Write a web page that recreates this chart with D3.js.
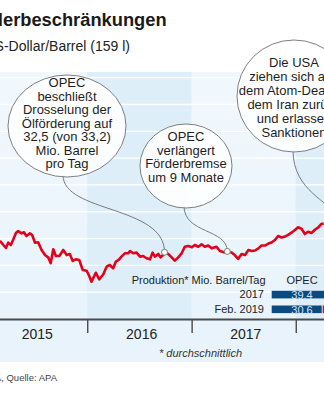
<!DOCTYPE html>
<html><head><meta charset="utf-8">
<script src="https://cdn.jsdelivr.net/npm/d3@7"></script>
<style>
html,body{margin:0;padding:0;background:#fff;}
svg{display:block;font-family:"Liberation Sans",Arial,Helvetica,sans-serif;}
</style></head><body>
<svg id="c" width="324" height="400"></svg>
<script>
// ---------- data ----------
const dates = ["2015-03-01","2015-03-13","2015-03-22","2015-03-30","2015-04-08","2015-04-16","2015-04-26","2015-05-04","2015-05-16","2015-05-24",
"2015-06-02","2015-06-14","2015-06-22","2015-07-02","2015-07-13","2015-07-25","2015-08-06","2015-08-17","2015-08-26","2015-09-04",
"2015-09-13","2015-09-25","2015-10-09","2015-10-21","2015-11-01","2015-11-11","2015-11-22","2015-12-04","2015-12-16","2015-12-30",
"2016-01-08","2016-01-16","2016-01-31","2016-02-12","2016-02-26","2016-03-09","2016-03-20","2016-04-01","2016-04-10","2016-04-22",
"2016-04-30","2016-05-12","2016-05-24","2016-05-30","2016-06-10","2016-06-22","2016-07-04","2016-07-15","2016-07-27","2016-08-08",
"2016-08-17","2016-08-25","2016-09-06","2016-09-14","2016-09-23","2016-10-02","2016-10-11","2016-10-23","2016-11-03","2016-11-15",
"2016-11-27","2016-12-08","2016-12-20","2017-01-02","2017-01-12","2017-01-24","2017-02-05","2017-02-16","2017-02-28","2017-03-12",
"2017-03-29","2017-04-10","2017-04-27","2017-05-06","2017-05-21","2017-06-01","2017-06-13","2017-06-25","2017-07-07","2017-07-19",
"2017-07-31","2017-08-11","2017-08-23","2017-09-03","2017-09-15","2017-09-27","2017-10-08","2017-10-20","2017-10-31","2017-11-12",
"2017-11-24","2017-12-05","2017-12-17","2017-12-29","2018-01-09","2018-01-21","2018-02-02","2018-02-13","2018-02-25","2018-03-09",
"2018-03-21","2018-04-01","2018-04-09"];
const prices = [58.4,55.2,53.0,56.9,55.2,58.9,64.2,65.6,63.9,64.7,
61.9,63.9,62.7,56.9,57.2,51.5,47.7,46.0,41.6,52.0,
47.0,47.0,51.5,47.7,48.5,43.3,44.5,44.0,36.6,36.0,
32.1,27.8,34.5,29.6,33.2,39.0,40.3,37.8,42.7,44.5,
46.5,49.0,49.0,50.7,49.0,49.5,46.5,47.0,45.3,44.5,
49.5,46.5,48.5,46.0,47.7,49.8,48.5,46.0,43.5,46.0,
49.0,53.9,54.5,53.5,55.2,53.9,55.7,53.9,54.8,52.7,
53.9,50.7,49.6,50.4,49.6,47.7,44.8,48.5,47.7,51.5,
50.7,51.1,52.7,54.8,54.8,56.3,57.1,58.9,61.9,60.8,
61.5,62.7,64.4,66.4,68.4,67.3,63.4,65.1,64.2,66.6,
68.3,70.9,71.2];
const years = [2015, 2016, 2017, 2018];
const gridValues = [20, 40, 60, 80, 100, 120, 140, 160, 180];

const noteTexts = [
  ["OPEC","beschließt","Drosselung der","Ölförderung auf","32,5 (von 33,2)","Mio. Barrel","pro Tag"],
  ["OPEC","verlängert","Förderbremse","um 9 Monate"],
  ["Die USA","ziehen sich aus","dem Atom-Deal mit","dem Iran zurück","und erlassen","Sanktionen"]
];
const noteDates = ["2016-09-28","2017-05-06","2018-05-08"];
const noteValues = [49.8, 50.4, 77];

const tableTitle = "Produktion* Mio. Barrel/Tag";
const tableColumn = "OPEC";
const tableRows = ["2017","Feb. 2019"];
const opecValues = [39.4, 30.6];

const titlePrefix = "Ölpreis und Förd";
const titleRest = "erbeschränkungen";
const subtitleText = "Rohöl der Sorte Brent in US-Dollar/Barrel (159 l)";
const footnoteText = "* durchschnittlich";
const sourceText = "Grafik: APA, Quelle: APA";

// ---------- layout ----------
const svg = d3.select("#c");
const parse = d3.utcParse("%Y-%m-%d");
const data = dates.map((d, i) => ({date: parse(d), value: prices[i]}));

const plotTop = 72, axisY = 319, panelBottom = 362;
const dayPx = 0.28528;
const x = d3.scaleUtc()
  .domain([Date.UTC(2015,0,1), Date.UTC(2019,0,1)])
  .range([-16.9, -16.9 + 1461 * dayPx]);
const y = d3.scaleLinear().domain([0, 185]).range([axisY, 71]);

const defs = svg.append("defs");
const gOdd = defs.append("linearGradient").attr("id","gOdd").attr("x1",0).attr("x2",0).attr("y1",0).attr("y2",1);
gOdd.append("stop").attr("offset","0%").attr("stop-color","#f1f8fd");
gOdd.append("stop").attr("offset","100%").attr("stop-color","#e8f3fb");

// panel background
svg.append("rect").attr("x",0).attr("y",plotTop).attr("width",324).attr("height",panelBottom-plotTop).attr("fill","#e8f3fb");
svg.selectAll("rect.band").data(years).join("rect").attr("class","band")
  .attr("x", d => x(Date.UTC(d,0,1)))
  .attr("width", d => x(Date.UTC(d+1,0,1)) - x(Date.UTC(d,0,1)))
  .attr("y", plotTop).attr("height", axisY - plotTop)
  .attr("fill", d => d % 2 ? "url(#gOdd)" : "#ddeef9");

// gridlines
svg.selectAll("line.grid").data(gridValues).join("line").attr("class","grid")
  .attr("x1",0).attr("x2",324).attr("y1",d=>y(d)).attr("y2",d=>y(d))
  .attr("stroke","#ffffff").attr("stroke-width",1.3);

// price line
svg.append("path").datum(data)
  .attr("d", d3.line().x(d=>x(d.date)).y(d=>y(d.value)))
  .attr("fill","none").attr("stroke","#e3001b").attr("stroke-width",2.6)
  .attr("stroke-linejoin","round");

// annotations
const bubbles = [
  {cx:67, cy:126, rx:59, ry:51, sx:-4, base:87, lh:13.5, k1:38, k2:47},
  {cx:186, cy:166, rx:46, ry:42, sx:-2, base:141, lh:13.6, k1:28, k2:23},
  {cx:294, cy:96, rx:57, ry:56, sx:-1, base:67, lh:14, k1:43, k2:16}
];
const notes = noteTexts.map((t,i)=>Object.assign({lines:t, date:parse(noteDates[i]), value:noteValues[i]}, bubbles[i]));

const ng = svg.append("g");
ng.selectAll("path.ptr").data(notes).join("path").attr("class","ptr")
  .attr("d", d => {
    const x0 = d.cx + d.sx, y0 = d.cy + d.ry - 2;
    const tx = x(d.date), ty = y(d.value);
    return `M${x0},${y0}C${x0},${y0+d.k1} ${tx},${ty-d.k2} ${tx},${ty}`;
  })
  .attr("fill","none").attr("stroke","#7a7a7a").attr("stroke-width",1);
ng.selectAll("circle.dot").data(notes).join("circle").attr("class","dot")
  .attr("cx", d=>x(d.date)).attr("cy", d=>y(d.value)).attr("r",3)
  .attr("fill","#fff").attr("stroke","#7a7a7a").attr("stroke-width",1);
ng.selectAll("ellipse").data(notes).join("ellipse")
  .attr("cx",d=>d.cx).attr("cy",d=>d.cy).attr("rx",d=>d.rx).attr("ry",d=>d.ry)
  .attr("fill","#ffffff").attr("fill-opacity",0.88)
  .attr("stroke","#7f7f7f").attr("stroke-width",1);
notes.forEach(n => {
  ng.append("g").selectAll("text").data(n.lines).join("text")
    .attr("x", n.cx).attr("y", (d,i)=> n.base + i*n.lh)
    .attr("text-anchor","middle").attr("font-size",13).attr("fill","#1e1e1e")
    .text(d=>d);
});

// axis
const axis = svg.append("g").attr("transform",`translate(0,${axisY})`)
  .call(d3.axisBottom(x).tickValues(years.map(yr=>new Date(Date.UTC(yr,0,1))))
        .tickSize(14).tickSizeOuter(0).tickFormat(""));
axis.select(".domain").attr("stroke","#4a4a4a").attr("stroke-width",2);
axis.selectAll(".tick line").attr("stroke","#4a4a4a").attr("stroke-width",1.4);

svg.selectAll("text.year").data(years).join("text").attr("class","year")
  .attr("x", d => x(Date.UTC(d,6,1)) + 2.5).attr("y", 338.5)
  .attr("text-anchor","middle").attr("font-size",14).attr("fill","#222")
  .text(d=>d);

svg.append("text").attr("x",159).attr("y",357).attr("font-size",11)
  .attr("font-style","italic").attr("fill","#333").text(footnoteText);

// production table
const barX = d3.scaleLinear().domain([0, 40]).range([271.7, 271.7 + 40*1.634]);
const rowY = d3.scaleBand().domain(tableRows).range([290.8, 313.1]).paddingInner(0.483);
const nf = d3.formatLocale({decimal:",", thousands:".", grouping:[3], currency:["","€"]}).format(".1f");
svg.append("text").attr("x",131.7).attr("y",284).attr("font-size",11).attr("fill","#222").text(tableTitle);
svg.append("text").attr("x",302).attr("y",284).attr("font-size",11).attr("text-anchor","middle").attr("fill","#222").text(tableColumn);
svg.selectAll("text.rowlab").data(tableRows).join("text").attr("class","rowlab")
  .attr("x",264).attr("y",d=>rowY(d)+rowY.bandwidth())
  .attr("text-anchor","end").attr("font-size",11).attr("fill","#222").text(d=>d);
svg.selectAll("rect.bar").data(opecValues).join("rect").attr("class","bar")
  .attr("x", barX(0)).attr("y",(d,i)=>rowY(tableRows[i]))
  .attr("width", d => barX(d) - barX(0)).attr("height", rowY.bandwidth())
  .attr("fill","#0b4a80");
svg.append("rect")
  .attr("x", barX(opecValues[1]) + 1).attr("y", rowY(tableRows[1]))
  .attr("width", barX(opecValues[0]) - barX(opecValues[1]) - 1).attr("height", rowY.bandwidth())
  .attr("fill","#e3001b");
svg.selectAll("text.val").data(opecValues).join("text").attr("class","val")
  .attr("x",302).attr("y",(d,i)=>rowY(tableRows[i])+rowY.bandwidth()+0.5)
  .attr("text-anchor","middle").attr("font-size",11).attr("fill","#d3e6f5").text(d=>nf(d));

// titles: place so that "erbeschränkungen" starts at x = 3
const title = svg.append("text").attr("x",0).attr("y",26)
  .attr("font-size",18.3).attr("font-weight","bold").attr("fill","#1a1a1a").text(titlePrefix + titleRest);
const startRest = title.node().getStartPositionOfChar(titlePrefix.length).x;
title.attr("x", 3 - startRest);
svg.append("text").attr("x",130).attr("y",51).attr("text-anchor","end")
  .attr("font-size",14).attr("fill","#222").text(subtitleText);
svg.append("text").attr("x",57).attr("y",381).attr("text-anchor","end")
  .attr("font-size",9.5).attr("fill","#444").text(sourceText);
</script>
</body></html>
